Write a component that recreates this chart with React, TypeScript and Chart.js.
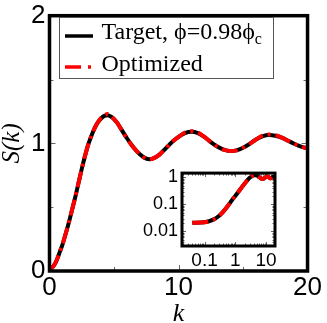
import React, { useEffect, useRef } from 'react';
import { Chart, registerables } from 'chart.js';

Chart.register(...registerables);

// ---- data ----
const kValues = [0.04, 0.1, 0.2, 0.3, 0.4, 0.5, 0.6, 0.8, 1.0, 1.25, 1.5, 1.75, 2.0, 2.25, 2.5, 2.75, 3.0, 3.25, 3.5, 3.75, 4.0, 4.25, 4.5, 4.75, 5.0, 5.25, 5.5, 5.75, 6.0, 6.5, 7.0, 7.5, 7.75, 8.0, 8.5, 9.0, 9.5, 10.0, 10.5, 11.0, 11.5, 12.0, 12.5, 13.0, 13.5, 14.0, 14.5, 15.0, 15.5, 16.0, 16.5, 17.0, 17.5, 18.0, 18.5, 19.0, 19.5, 20.0];
const targetS = [0.021, 0.022, 0.028, 0.038, 0.053, 0.072, 0.095, 0.15, 0.205, 0.29, 0.38, 0.48, 0.58, 0.69, 0.80, 0.90, 0.99, 1.06, 1.12, 1.165, 1.195, 1.215, 1.22, 1.21, 1.19, 1.16, 1.12, 1.08, 1.04, 0.97, 0.915, 0.88, 0.875, 0.88, 0.91, 0.96, 1.01, 1.05, 1.08, 1.09, 1.08, 1.05, 1.01, 0.975, 0.95, 0.94, 0.945, 0.965, 0.995, 1.03, 1.055, 1.065, 1.06, 1.045, 1.02, 0.995, 0.975, 0.96];
const optimizedS = [0.021, 0.022, 0.028, 0.038, 0.053, 0.072, 0.095, 0.15, 0.205, 0.29, 0.38, 0.48, 0.58, 0.69, 0.80, 0.90, 0.99, 1.06, 1.12, 1.165, 1.2, 1.22, 1.23, 1.215, 1.19, 1.16, 1.12, 1.08, 1.04, 0.97, 0.915, 0.88, 0.875, 0.88, 0.91, 0.96, 1.01, 1.05, 1.085, 1.095, 1.085, 1.05, 1.01, 0.975, 0.95, 0.94, 0.945, 0.965, 0.995, 1.03, 1.06, 1.07, 1.065, 1.045, 1.02, 0.995, 0.975, 0.96];

const mainXTickLabels = [0, 10, 20];
const mainYTickLabels = [0, 1, 2];
const mainXMinor = [5, 15];
const mainYMinor = [0.5, 1.5];
const insetXTickLabels = [0.1, 1, 10];
const insetYTickLabels = [0.01, 0.1, 1];

const legendLabels = ['Target, \u03D5=0.98\u03D5', 'Optimized'];
const legendSub = 'c';

const SANS = '"Liberation Sans", Arial, Helvetica, sans-serif';
const SERIF = '"Liberation Serif", "Times New Roman", serif';
const RED = '#ff0000';
const DASH = [16, 5, 3, 5];

function pts(ys: number[]) {
  return kValues.map((k, i) => ({ x: k, y: ys[i] }));
}

function drawTicks(chart: any, xt: [number, number][], yt: [number, number][]) {
  const { ctx, chartArea: a } = chart;
  const xs = chart.scales.x;
  const ys = chart.scales.y;
  ctx.save();
  ctx.strokeStyle = '#666';
  ctx.lineWidth = 1;
  ctx.beginPath();
  xt.forEach(([v, len]) => {
    const px = Math.round(xs.getPixelForValue(v)) + 0.5;
    ctx.moveTo(px, a.bottom);
    ctx.lineTo(px, a.bottom - len);
    ctx.moveTo(px, a.top);
    ctx.lineTo(px, a.top + len);
  });
  yt.forEach(([v, len]) => {
    const py = Math.round(ys.getPixelForValue(v)) + 0.5;
    ctx.moveTo(a.left, py);
    ctx.lineTo(a.left + len, py);
    ctx.moveTo(a.right, py);
    ctx.lineTo(a.right - len, py);
  });
  ctx.stroke();
  ctx.restore();
}

function drawFrame(chart: any, w: number) {
  const { ctx, chartArea: a } = chart;
  ctx.save();
  ctx.strokeStyle = '#000';
  ctx.lineWidth = w;
  ctx.strokeRect(a.left, a.top, a.right - a.left, a.bottom - a.top);
  ctx.restore();
}

const mainPlugin = {
  id: 'mainDeco',
  beforeDatasetsDraw(chart: any) {
    const xt: [number, number][] = [
      ...mainXTickLabels.map((v) => [v, 6] as [number, number]),
      ...mainXMinor.map((v) => [v, 4] as [number, number]),
    ];
    const yt: [number, number][] = [
      ...mainYTickLabels.map((v) => [v, 6] as [number, number]),
      ...mainYMinor.map((v) => [v, 4] as [number, number]),
    ];
    drawTicks(chart, xt, yt);
  },
  afterDatasetsDraw(chart: any) {
    drawFrame(chart, 3.5);
  },
  afterDraw(chart: any) {
    const { ctx } = chart;
    ctx.save();
    // legend box
    ctx.fillStyle = '#fff';
    ctx.fillRect(59.5, 17.5, 214, 61);
    ctx.strokeStyle = '#555';
    ctx.lineWidth = 1;
    ctx.strokeRect(59.5, 17.5, 214, 61);
    // sample lines
    ctx.lineWidth = 3.5;
    ctx.strokeStyle = '#000';
    ctx.beginPath();
    ctx.moveTo(65, 36);
    ctx.lineTo(93, 36);
    ctx.stroke();
    ctx.strokeStyle = RED;
    ctx.setLineDash([16, 7, 3, 7]);
    ctx.beginPath();
    ctx.moveTo(65, 67);
    ctx.lineTo(93, 67);
    ctx.stroke();
    ctx.setLineDash([]);
    // texts
    ctx.fillStyle = '#000';
    ctx.textBaseline = 'alphabetic';
    ctx.textAlign = 'left';
    ctx.font = `24px ${SERIF}`;
    ctx.fillText(legendLabels[0], 101.5, 39);
    const w = ctx.measureText(legendLabels[0]).width;
    ctx.font = `16px ${SERIF}`;
    ctx.fillText(legendSub, 101.5 + w, 44);
    ctx.font = `24px ${SERIF}`;
    ctx.fillText(legendLabels[1], 101.5, 70.5);
    ctx.restore();
  },
};

function logMinor(min: number, max: number): number[] {
  const out: number[] = [];
  for (let e = Math.floor(Math.log10(min)); e <= Math.ceil(Math.log10(max)); e++) {
    for (let m = 2; m <= 9; m++) {
      const v = m * Math.pow(10, e);
      if (v > min && v < max) out.push(v);
    }
  }
  return out;
}

const insetX = { min: 0.0185, max: 19.6 };
const insetY = { min: 0.0029, max: 1.45 };

const insetPlugin = {
  id: 'insetDeco',
  beforeDatasetsDraw(chart: any) {
    const { ctx, chartArea: a } = chart;
    ctx.save();
    ctx.fillStyle = '#fff';
    ctx.fillRect(a.left, a.top, a.right - a.left, a.bottom - a.top);
    ctx.restore();
    const xt: [number, number][] = [
      ...insetXTickLabels.map((v) => [v, 4] as [number, number]),
      ...logMinor(insetX.min, insetX.max).map((v) => [v, 2.5] as [number, number]),
    ];
    const yt: [number, number][] = [
      ...insetYTickLabels.map((v) => [v, 4] as [number, number]),
      ...logMinor(insetY.min, insetY.max).map((v) => [v, 2.5] as [number, number]),
    ];
    drawTicks(chart, xt, yt);
  },
  afterDatasetsDraw(chart: any) {
    drawFrame(chart, 3);
  },
};

export default function App() {
  const mainRef = useRef<HTMLCanvasElement>(null);
  const insetRef = useRef<HTMLCanvasElement>(null);

  useEffect(() => {
    const lineDs = (label: string, ys: number[], color: string, dash: number[], order: number) => ({
      label,
      data: pts(ys),
      borderColor: color,
      backgroundColor: color,
      borderWidth: 4,
      borderDash: dash,
      pointRadius: 0,
      fill: false,
      cubicInterpolationMode: 'monotone' as const,
      order,
    });

    const main = new Chart(mainRef.current!, {
      type: 'line',
      data: {
        datasets: [
          lineDs('Target', targetS, '#000', [], 1),
          lineDs('Optimized', optimizedS, RED, DASH, 0),
        ],
      },
      options: {
        responsive: false,
        animation: false,
        devicePixelRatio: 1,
        events: [],
        layout: { padding: { top: 12, right: 17, left: 0, bottom: 0 } },
        plugins: { legend: { display: false }, tooltip: { enabled: false } },
        scales: {
          x: {
            type: 'linear',
            min: 0,
            max: 20,
            grid: { display: false, drawTicks: false },
            border: { display: false },
            afterBuildTicks: (s: any) => {
              s.ticks = mainXTickLabels.map((value) => ({ value }));
            },
            ticks: {
              padding: 5,
              color: '#000',
              maxRotation: 0,
              autoSkip: false,
              font: { family: SANS, size: 26, lineHeight: 0.9 },
              callback: (v: any) => String(v),
            },
            title: {
              display: true,
              text: 'k',
              color: '#000',
              padding: 0,
              font: { family: SERIF, size: 26, style: 'italic', lineHeight: 0.7 },
            },
            afterFit: (s: any) => {
              s.height = 52;
            },
          },
          y: {
            type: 'linear',
            min: 0,
            max: 2,
            grid: { display: false, drawTicks: false },
            border: { display: false },
            afterBuildTicks: (s: any) => {
              s.ticks = mainYTickLabels.map((value) => ({ value }));
            },
            ticks: {
              padding: 4,
              color: '#000',
              font: { family: SANS, size: 26, lineHeight: 0.9 },
              callback: (v: any) => String(v),
            },
            title: {
              display: true,
              text: 'S(k)',
              color: '#000',
              padding: 0,
              font: { family: SERIF, size: 25, style: 'italic', lineHeight: 1 },
            },
            afterFit: (s: any) => {
              s.width = 49.5;
            },
          },
        },
      },
      plugins: [mainPlugin],
    } as any);

    const inset = new Chart(insetRef.current!, {
      type: 'line',
      data: {
        datasets: [
          lineDs('Target', targetS, '#000', [], 1),
          lineDs('Optimized', optimizedS, RED, DASH, 0),
        ],
      },
      options: {
        responsive: false,
        animation: false,
        devicePixelRatio: 1,
        events: [],
        layout: { padding: { top: 10, right: 15, left: 0, bottom: 0 } },
        plugins: { legend: { display: false }, tooltip: { enabled: false } },
        scales: {
          x: {
            type: 'logarithmic',
            min: insetX.min,
            max: insetX.max,
            grid: { display: false, drawTicks: false },
            border: { display: false },
            afterBuildTicks: (s: any) => {
              s.ticks = insetXTickLabels.map((value) => ({ value }));
            },
            ticks: {
              padding: 6,
              color: '#000',
              maxRotation: 0,
              autoSkip: false,
              font: { family: SANS, size: 19, lineHeight: 0.9 },
              callback: (v: any) => String(v),
            },
            afterFit: (s: any) => {
              s.height = 39;
            },
          },
          y: {
            type: 'logarithmic',
            min: insetY.min,
            max: insetY.max,
            grid: { display: false, drawTicks: false },
            border: { display: false },
            afterBuildTicks: (s: any) => {
              s.ticks = insetYTickLabels.map((value) => ({ value }));
            },
            ticks: {
              padding: 4,
              color: '#000',
              autoSkip: false,
              font: { family: SANS, size: 18, lineHeight: 0.9 },
              callback: (v: any) => String(v),
            },
            afterFit: (s: any) => {
              s.width = 42;
            },
          },
        },
      },
      plugins: [insetPlugin],
    } as any);

    return () => {
      main.destroy();
      inset.destroy();
    };
  }, []);

  return (
    <div style={{ position: 'absolute', left: 0, top: 0, width: 327, height: 323, background: '#fff' }}>
      <canvas ref={mainRef} width={327} height={323} style={{ position: 'absolute', left: 0, top: 0 }} />
      <canvas ref={insetRef} width={150} height={124} style={{ position: 'absolute', left: 140, top: 161 }} />
    </div>
  );
}
